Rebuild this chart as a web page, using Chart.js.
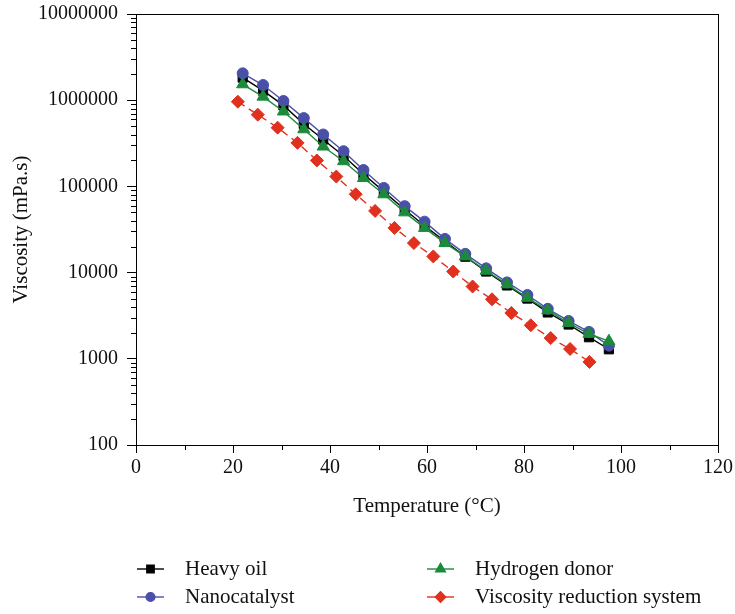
<!DOCTYPE html>
<html>
<head>
<meta charset="utf-8">
<script src="https://cdn.jsdelivr.net/npm/chart.js@4.4.1/dist/chart.umd.min.js"></script>
<style>
  html, body { margin: 0; padding: 0; background: #fff; }
  #wrap { width: 735px; height: 614px; }
</style>
</head>
<body>
<div id="wrap"><canvas id="chart" width="735" height="614"></canvas></div>
<script>
// temperatures (°C)
const temps = [22, 26.2, 30.4, 34.6, 38.6, 42.8, 46.9, 51.1, 55.4, 59.5, 63.7, 67.9, 72.2, 76.5, 80.7, 84.9, 89.2, 93.4, 97.5];
const tempsVRS = [21, 25.1, 29.2, 33.3, 37.3, 41.3, 45.3, 49.3, 53.3, 57.3, 61.3, 65.4, 69.4, 73.4, 77.4, 81.4, 85.5, 89.5, 93.5];

// viscosity (mPa.s)
const heavyOil = [1830000, 1290000, 870000, 530000, 350000, 225000, 139000, 87000, 54000, 35000, 23000, 15300, 10300, 7100, 5000, 3450, 2500, 1780, 1290];
const nanocatalyst = [2050000, 1500000, 980000, 620000, 400000, 256000, 155000, 96000, 59000, 39000, 24600, 16500, 11200, 7700, 5500, 3800, 2750, 2050, 1420];
const hydrogenDonor = [1530000, 1100000, 740000, 460000, 290000, 196000, 125000, 81000, 50000, 33000, 22000, 15400, 10500, 7300, 5100, 3650, 2600, 1950, 1600];
const vrSystem = [960000, 680000, 480000, 320000, 200000, 130000, 81000, 52000, 33000, 22000, 15400, 10300, 6900, 4900, 3400, 2450, 1740, 1300, 920];

const xTicks = [0, 20, 40, 60, 80, 100, 120];
const xMinor = [10, 30, 50, 70, 90, 110];
const yTicks = [100, 1000, 10000, 100000, 1000000, 10000000];

const seriesNames = ['Heavy oil', 'Nanocatalyst', 'Hydrogen donor', 'Viscosity reduction system'];

const FONT = '"Liberation Serif", "Times New Roman", serif';
const BLACK = '#000000';
const BLUE = '#4a50a8';
const GREEN = '#1c8a3a';
const RED = '#e0301e';

function pts(xs, ys) {
    return xs.map((x, i) => ({ x: x, y: ys[i] }));
}

const datasets = [
    { label: seriesNames[0], data: pts(temps, heavyOil), borderColor: BLACK, backgroundColor: BLACK,
      pointStyle: 'rect', pointRadius: 6.5, order: 4 },
    { label: seriesNames[1], data: pts(temps, nanocatalyst), borderColor: BLUE, backgroundColor: BLUE,
      pointStyle: 'circle', pointRadius: 5.5, order: 3 },
    { label: seriesNames[2], data: pts(temps, hydrogenDonor), borderColor: GREEN, backgroundColor: GREEN,
      pointStyle: 'triangle', pointRadius: 7, order: 2 },
    { label: seriesNames[3], data: pts(tempsVRS, vrSystem), borderColor: RED, backgroundColor: RED,
      pointStyle: 'rectRot', pointRadius: 6.5, borderDash: [8, 5], order: 1 }
];
datasets.forEach(d => {
    d.borderWidth = 1.4;
    d.pointBorderWidth = 1;
    d.pointHoverRadius = d.pointRadius;
    d.tension = 0;
    d.fill = false;
});

// frame, minor ticks and legend
const extras = {
    id: 'extras',
    afterDraw(chart) {
        const ctx = chart.ctx;
        const a = chart.chartArea;
        const xs = chart.scales.x, ys = chart.scales.y;
        ctx.save();
        ctx.strokeStyle = BLACK;
        ctx.lineWidth = 1;
        ctx.strokeRect(Math.round(a.left) + 0.5, Math.round(a.top) + 0.5,
            Math.round(a.right - a.left), Math.round(a.bottom - a.top));

        ctx.beginPath();
        xMinor.forEach(v => {
            const px = Math.round(xs.getPixelForValue(v)) + 0.5;
            ctx.moveTo(px, a.bottom);
            ctx.lineTo(px, a.bottom + 5);
        });
        for (let d = 100; d < 10000000; d *= 10) {
            for (let m = 2; m <= 9; m++) {
                const py = Math.round(ys.getPixelForValue(d * m)) + 0.5;
                ctx.moveTo(a.left, py);
                ctx.lineTo(a.left - 5, py);
            }
        }
        ctx.stroke();

        // legend, two columns
        const cols = [137, 427];
        const rows = [569, 597];
        chart.data.datasets.forEach((ds, i) => {
            const x0 = cols[Math.floor(i / 2)];
            const y0 = rows[i % 2];
            ctx.strokeStyle = ds.borderColor;
            ctx.lineWidth = 1.4;
            ctx.setLineDash([]);
            ctx.beginPath();
            ctx.moveTo(x0, y0);
            ctx.lineTo(x0 + 27, y0);
            ctx.stroke();
            ctx.fillStyle = ds.backgroundColor;
            Chart.helpers.drawPoint(ctx, {
                pointStyle: ds.pointStyle,
                radius: ds.pointRadius * 0.8,
                rotation: 0,
                borderWidth: 1
            }, x0 + 13.5, y0);
            ctx.fillStyle = '#111';
            ctx.font = '21px ' + FONT;
            ctx.textBaseline = 'middle';
            ctx.textAlign = 'left';
            ctx.fillText(ds.label, x0 + 48, y0);
        });
        ctx.restore();
    }
};

new Chart(document.getElementById('chart'), {
    type: 'line',
    data: { datasets: datasets },
    options: {
        responsive: false,
        animation: false,
        layout: { padding: { left: 0, right: 17, top: 14, bottom: 90 } },
        plugins: { legend: { display: false }, tooltip: { enabled: false } },
        scales: {
            x: {
                type: 'linear',
                min: 0,
                max: 120,
                afterBuildTicks: s => { s.ticks = xTicks.map(v => ({ value: v })); },
                afterFit: s => { s.height = 79; s.paddingRight = 0; s.paddingLeft = 0; },
                grid: { drawOnChartArea: false, drawTicks: true, tickLength: 8, color: BLACK, lineWidth: 1 },
                border: { display: true, color: BLACK, width: 1 },
                ticks: { color: '#111', font: { family: FONT, size: 20 }, padding: 3, maxRotation: 0 },
                title: { display: true, text: 'Temperature (°C)', color: '#111',
                         font: { family: FONT, size: 21 }, padding: { top: 4, bottom: 5 } }
            },
            y: {
                type: 'logarithmic',
                min: 100,
                max: 10000000,
                afterBuildTicks: s => { s.ticks = yTicks.map(v => ({ value: v })); },
                afterFit: s => { s.width = 136; s.paddingTop = 0; s.paddingBottom = 0; },
                grid: { drawOnChartArea: false, drawTicks: true, tickLength: 9, color: BLACK, lineWidth: 1 },
                border: { display: true, color: BLACK, width: 1 },
                ticks: { color: '#111', font: { family: FONT, size: 20 }, padding: 9,
                         callback: v => String(v) },
                title: { display: true, text: 'Viscosity (mPa.s)', color: '#111',
                         font: { family: FONT, size: 21 }, padding: { top: 9, bottom: 0 } }
            }
        }
    },
    plugins: [extras]
});
</script>
</body>
</html>
